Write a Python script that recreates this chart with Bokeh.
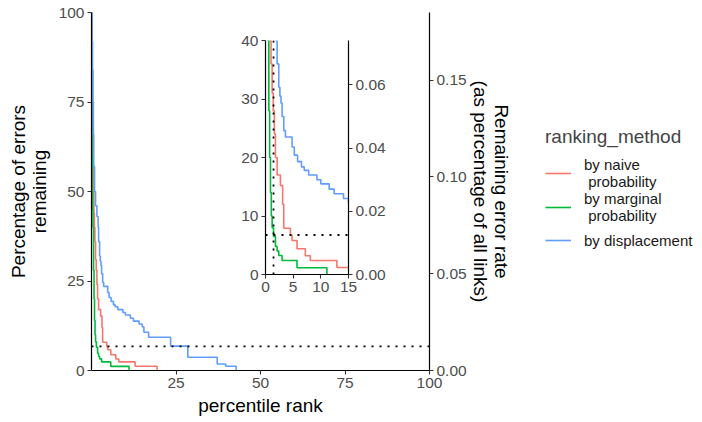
from bokeh.plotting import figure
from bokeh.models import (Range1d, LinearAxis, FixedTicker, PrintfTickFormatter,
                          Span, Legend, LegendItem)
from bokeh.embed import file_html
from bokeh.resources import INLINE

# ---------------- data ----------------
method_labels = ["by naive\n\u00a0probability", "by marginal\n\u00a0probability", "by displacement"]
method_colors = ["#F8766D", "#00BA38", "#619CFF"]

naive_x = [0, 0.1, 0.2, 0.35, 0.5, 0.7, 0.85, 1.0, 1.2, 1.4, 1.6, 1.8, 2.1, 2.7, 3.1, 3.3,
           4.5, 4.8, 5.7, 7.2, 8.1, 12.9, 19.4]
naive_y = [100, 85, 72, 60, 50, 44, 40, 36, 31, 28, 24, 20, 17, 15.2, 12, 7.9,
           6.7, 5.8, 4.4, 3.2, 2.4, 1.2, 0]

marginal_x = [0, 0.04, 0.08, 0.14, 0.22, 0.32, 0.45, 0.6, 0.75, 0.9, 1.05, 1.2, 1.45,
              1.8, 2.1, 2.4, 3.0, 5.7, 11.1]
marginal_y = [100, 82, 70, 60, 50, 45, 40, 28, 20, 14, 10, 8, 6.5,
              4.8, 4.0, 3.25, 2.4, 1.15, 0]

displacement_x = [0, 0.15, 0.3, 0.45, 0.55, 0.65, 0.9, 1.2, 1.6, 1.95, 2.1, 2.4, 2.6, 2.8, 3.0,
                  3.3, 3.6, 4.8, 5.2, 5.8, 6.5, 7.0, 7.8, 9.3, 10.0, 11.5, 12.4, 14.1,
                  15.0, 15.5, 16.9, 23.4, 28.5, 37.2, 39.7, 42.8]
displacement_y = [100, 92, 84, 75, 66, 57, 50, 46, 43, 40, 36, 32, 30.5, 29.3, 27,
                  24.6, 23.5, 21.8, 20.4, 19.3, 18.4, 17.8, 17.0, 16.2, 15.5, 14.6, 13.8, 13.0,
                  12.2, 10.7, 9.3, 6.8, 3.7, 1.8, 1.2, 0]

series_x = [naive_x, marginal_x, displacement_x]
series_y = [naive_y, marginal_y, displacement_y]

threshold_pct = 6.75      # dotted horizontal reference
threshold_rank = 1.45     # dotted vertical reference (inset)
rate_per_pct = 0.00185    # secondary axis factor

main_x_ticks = [25, 50, 75, 100]
main_y_ticks = [0, 25, 50, 75, 100]
main_rate_ticks = [0, 0.05, 0.10, 0.15]
inset_x_ticks = [0, 5, 10, 15]
inset_y_ticks = [0, 10, 20, 30, 40]
inset_rate_ticks = [0, 0.02, 0.04, 0.06]

FONT = "Liberation Sans"


def style_axis(ax):
    ax.axis_line_color = "black"
    ax.axis_line_width = 1.2
    ax.major_tick_line_color = "#333333"
    ax.major_tick_line_width = 1.1
    ax.major_tick_in = 0
    ax.major_tick_out = 4
    ax.minor_tick_line_color = None
    ax.major_label_text_color = "#4d4d4d"
    ax.major_label_text_font = FONT
    ax.major_label_text_font_size = "15.5px"
    ax.major_label_standoff = 3
    ax.axis_label_text_font = FONT
    ax.axis_label_text_font_size = "19px"
    ax.axis_label_text_font_style = "normal"
    ax.axis_label_text_color = "black"
    ax.axis_label_text_line_height = 1.0


# ---------------- main plot ----------------
p = figure(name="main", width=702, height=422, x_range=Range1d(0, 100), y_range=Range1d(0, 100),
           output_backend="svg", toolbar_location=None,
           min_border_left=91, min_border_right=273, min_border_top=12, min_border_bottom=52)
p.grid.visible = False
p.outline_line_color = None

for xs, ys, c in zip(series_x, series_y, method_colors):
    p.step(xs, ys, mode="after", line_color=c, line_width=1.6)

p.add_layout(Span(location=threshold_pct, dimension="width", line_color="black",
                  line_width=1.8, line_dash="2 6"))

p.xaxis.ticker = FixedTicker(ticks=main_x_ticks)
p.yaxis.ticker = FixedTicker(ticks=main_y_ticks)
p.xaxis.axis_label = "percentile rank"
p.yaxis.axis_label = "Percentage of errors\nremaining"
p.xaxis.axis_label_standoff = 4
p.yaxis.axis_label_standoff = 6

p.extra_y_ranges = {"rate": Range1d(0, 100 * rate_per_pct)}
rax = LinearAxis(y_range_name="rate", ticker=FixedTicker(ticks=main_rate_ticks),
                 formatter=PrintfTickFormatter(format="%.2f"),
                 axis_label="Remaining error rate\n(as percentage of all links)")
p.add_layout(rax, "right")
for ax in [p.xaxis[0], p.yaxis[0], rax]:
    style_axis(ax)
rax.axis_label_standoff = 0

# ---------------- inset ----------------
q = figure(name="inset", width=163, height=274, x_range=Range1d(0, 15), y_range=Range1d(0, 40),
           output_backend="svg", toolbar_location=None,
           min_border_left=35, min_border_right=45, min_border_top=12, min_border_bottom=28)
q.grid.visible = False
q.outline_line_color = None
q.background_fill_alpha = 0
q.border_fill_alpha = 0
for xs, ys, c in zip(series_x, series_y, method_colors):
    q.step(xs, ys, mode="after", line_color=c, line_width=1.6)
q.add_layout(Span(location=threshold_pct, dimension="width", line_color="black",
                  line_width=1.8, line_dash="2 6"))
q.add_layout(Span(location=threshold_rank, dimension="height", line_color="black",
                  line_width=1.8, line_dash="2 6"))
q.xaxis.ticker = FixedTicker(ticks=inset_x_ticks)
q.yaxis.ticker = FixedTicker(ticks=inset_y_ticks)
q.extra_y_ranges = {"rate": Range1d(0, 40 * rate_per_pct)}
qrax = LinearAxis(y_range_name="rate", ticker=FixedTicker(ticks=inset_rate_ticks),
                  formatter=PrintfTickFormatter(format="%.2f"))
q.add_layout(qrax, "right")
for ax in [q.xaxis[0], q.yaxis[0], qrax]:
    style_axis(ax)

# ---------------- legend (own small canvas; series drawn outside its view) ----------------
lg = figure(name="legend", width=160, height=136, x_range=Range1d(0, 1), y_range=Range1d(-2, -1),
            x_axis_type=None, y_axis_type=None, output_backend="svg", toolbar_location=None,
            min_border=0)
lg.outline_line_color = None
lg.background_fill_alpha = 0
lg.border_fill_alpha = 0
lg.grid.visible = False
lg_items = []
for lab, xs, ys, c in zip(method_labels, series_x, series_y, method_colors):
    r = lg.step(xs, ys, mode="after", line_color=c, line_width=1.6)
    lg_items.append(LegendItem(label=lab, renderers=[r]))

legend = Legend(items=lg_items, location="top_left")
legend.title = "ranking_method"
legend.title_text_font = FONT
legend.title_text_font_size = "19px"
legend.title_text_font_style = "normal"
legend.title_standoff = 8
legend.label_text_font = FONT
legend.label_text_font_size = "15px"
legend.label_text_line_height = 1.0
legend.label_text_color = "#1a1a1a"
legend.border_line_color = None
legend.background_fill_alpha = 0
legend.padding = 0
legend.margin = 0
legend.spacing = 0
legend.label_height = 32
legend.glyph_height = 32
legend.glyph_width = 26
legend.label_standoff = 13
lg.add_layout(legend, "center")

# page: main plot at the origin, inset and legend placed over it
page_template = """
{% block inner_body %}
<div style="position: relative; width: 702px; height: 422px; overflow: hidden;">
  <div style="position: absolute; left: 0px; top: 0px;"><div id="{{ roots[0].elementid }}" style="display: contents;"></div></div>
  <div style="position: absolute; left: 230px; top: 28px;"><div id="{{ roots[1].elementid }}" style="display: contents;"></div></div>
  <div style="position: absolute; left: 545px; top: 126px;"><div id="{{ roots[2].elementid }}" style="display: contents;"></div></div>
</div>
{{ plot_script }}
{% endblock %}
"""

open("out.html", "w").write(file_html([p, q, lg], INLINE, template=page_template))
